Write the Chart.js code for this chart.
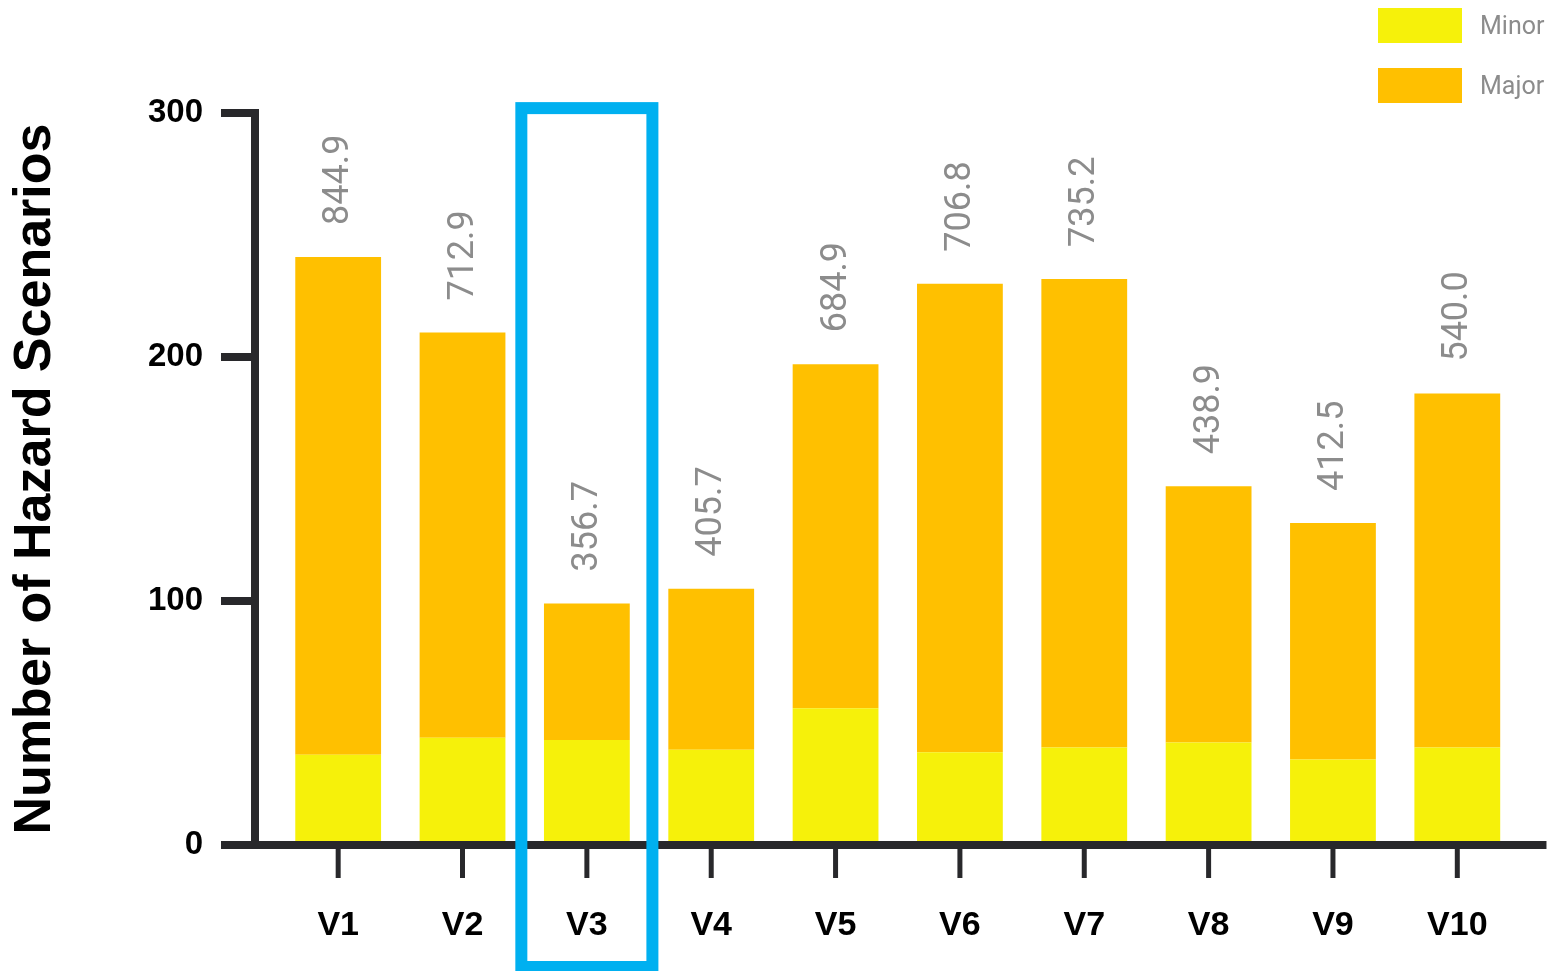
<!DOCTYPE html>
<html>
<head>
<meta charset="utf-8">
<title>Hazard scenarios per variant</title>
<script src="https://cdn.jsdelivr.net/npm/chart.js@4.4.1/dist/chart.umd.min.js"></script>
<style>
  html, body { margin: 0; padding: 0; background: #fff; }
  #myChart { display: block; }
</style>
</head>
<body>
<canvas id="myChart" width="1549" height="971"></canvas>
<script>
const variants = ["V1", "V2", "V3", "V4", "V5", "V6", "V7", "V8", "V9", "V10"];
const minorCounts = [37, 44, 43, 39, 56, 38, 40, 42, 35, 40];
const majorCounts = [204, 166, 56, 66, 141, 192, 192, 105, 97, 145];
const scoreLabels = ["844.9", "712.9", "356.7", "405.7", "684.9", "706.8", "735.2", "438.9", "412.5", "540.0"];
const yTicks = [0, 100, 200, 300];
const highlighted = "V3";

const axisColor = "#28282b";
const minorColor = "#f6f10a";
const majorColor = "#ffc000";
const boxColor = "#00b0f0";

const chartDOM = document.getElementById("myChart");

// axis lines and tick marks, drawn on top of the bar bottoms
const axesPlugin = {
  id: "axes",
  afterDatasetsDraw(chart) {
    const ctx = chart.ctx;
    const x = chart.scales.x;
    const y = chart.scales.y;
    const area = chart.chartArea;
    const axisX = area.left - 21;
    const zeroY = y.getPixelForValue(0);

    ctx.save();
    ctx.strokeStyle = axisColor;
    ctx.lineCap = "butt";

    ctx.lineWidth = 8;
    ctx.beginPath();
    ctx.moveTo(axisX, y.getPixelForValue(300) - 4);
    ctx.lineTo(axisX, zeroY);
    ctx.stroke();

    ctx.beginPath();
    ctx.moveTo(area.left - 55, zeroY);
    ctx.lineTo(area.right + 27, zeroY);
    ctx.stroke();

    yTicks.forEach(v => {
      const py = y.getPixelForValue(v);
      ctx.beginPath();
      ctx.moveTo(area.left - 55, py);
      ctx.lineTo(axisX, py);
      ctx.stroke();
    });

    ctx.lineWidth = 5;
    variants.forEach((v, i) => {
      const px = x.getPixelForValue(i);
      ctx.beginPath();
      ctx.moveTo(px, zeroY + 4);
      ctx.lineTo(px, zeroY + 33);
      ctx.stroke();
    });
    ctx.restore();
  }
};

// rotated score above each stacked bar
const scoresPlugin = {
  id: "scores",
  afterDatasetsDraw(chart) {
    const ctx = chart.ctx;
    const meta = chart.getDatasetMeta(1);
    ctx.save();
    ctx.fillStyle = "#8c8c8c";
    ctx.font = "36px Roboto";
    ctx.textAlign = "left";
    ctx.textBaseline = "middle";
    meta.data.forEach((bar, i) => {
      ctx.save();
      ctx.translate(bar.x, bar.y - 32);
      ctx.rotate(-Math.PI / 2);
      ctx.fillText(scoreLabels[i], 0, 1);
      ctx.restore();
    });
    ctx.restore();
  }
};

// blue frame around the highlighted variant
const highlightPlugin = {
  id: "highlight",
  afterDraw(chart) {
    const ctx = chart.ctx;
    const x = chart.scales.x;
    const y = chart.scales.y;
    const i = variants.indexOf(highlighted);
    const cx = x.getPixelForValue(i);
    const step = x.getPixelForValue(1) - x.getPixelForValue(0);
    const half = step * 0.527;
    const top = y.getPixelForValue(302);
    const bottom = chart.chartArea.bottom + 122;
    ctx.save();
    ctx.strokeStyle = boxColor;
    ctx.lineWidth = 12;
    ctx.strokeRect(cx - half, top, half * 2, bottom - top);
    ctx.restore();
  }
};

// legend stacked in the top right corner
const legendPlugin = {
  id: "cornerLegend",
  afterDraw(chart) {
    const ctx = chart.ctx;
    const items = [chart.data.datasets[0], chart.data.datasets[1]];
    ctx.save();
    ctx.font = "25px Roboto";
    ctx.textAlign = "left";
    ctx.textBaseline = "middle";
    items.forEach((ds, k) => {
      const top = 8 + k * 60;
      ctx.fillStyle = ds.backgroundColor;
      ctx.fillRect(1378, top, 84, 35);
      ctx.fillStyle = "#8c8c8c";
      ctx.fillText(ds.label, 1480, top + 20);
    });
    ctx.restore();
  }
};

const config = {
  type: "bar",
  data: {
    labels: variants,
    datasets: [
      {
        label: "Minor",
        data: minorCounts,
        backgroundColor: minorColor,
        barPercentage: 0.69,
        categoryPercentage: 1
      },
      {
        label: "Major",
        data: majorCounts,
        backgroundColor: majorColor,
        barPercentage: 0.69,
        categoryPercentage: 1
      }
    ]
  },
  options: {
    responsive: false,
    animation: false,
    devicePixelRatio: 1,
    layout: {
      padding: { left: 0, right: 29, top: 113, bottom: 0 }
    },
    plugins: {
      legend: { display: false },
      tooltip: { enabled: false }
    },
    scales: {
      x: {
        stacked: true,
        grid: { display: false, drawTicks: false },
        border: { display: false },
        ticks: {
          color: "#000",
          padding: 60,
          font: { family: "Liberation Sans", size: 34, weight: "bold" }
        },
        afterFit(scale) { scale.height = 126; }
      },
      y: {
        stacked: true,
        min: 0,
        max: 300,
        grid: { display: false, drawTicks: false },
        border: { display: false },
        afterBuildTicks(scale) {
          scale.ticks = yTicks.map(v => ({ value: v }));
        },
        ticks: {
          color: "#000",
          padding: 73,
          font: { family: "Liberation Sans", size: 33, weight: "bold" }
        },
        title: {
          display: true,
          text: "Number of Hazard Scenarios",
          color: "#000",
          padding: { top: 4, bottom: 0 },
          font: { family: "Liberation Sans", size: 52, weight: "bold" }
        },
        afterFit(scale) { scale.width = 276; }
      }
    }
  },
  plugins: [axesPlugin, scoresPlugin, highlightPlugin, legendPlugin]
};

const myChart = new Chart(chartDOM, config);
</script>
</body>
</html>
